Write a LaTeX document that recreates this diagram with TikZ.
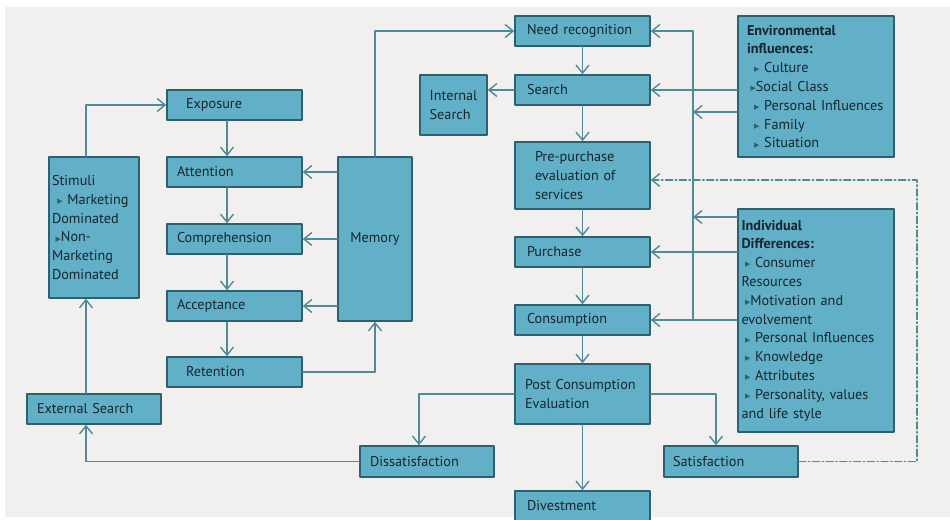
\documentclass[tikz,border=0pt]{standalone}
\usepackage{fontspec}
\setmainfont{PT Sans}
\newfontfamily\symfont{DejaVu Sans}
\usetikzlibrary{arrows.meta, positioning, calc}
\definecolor{boxfill}{HTML}{62AFC8}
\definecolor{boxline}{HTML}{2D6170}
\definecolor{wire}{HTML}{4F8A99}
\definecolor{ink}{HTML}{16262C}
\definecolor{paper}{HTML}{F1F0EE}
\newcommand{\bul}{{\symfont\fontsize{4}{4}\selectfont\color{boxline}\raisebox{0.4pt}{▶}}}

\begin{document}
\begin{tikzpicture}[x=0.02cm, y=-0.02cm, >={Straight Barb[length=1.6mm, width=2.6mm]}, line join=round, line cap=round,
    blk/.style={draw=boxline, fill=boxfill, line width=0.9pt, text=ink, font=\fontsize{8.1}{10.7}\selectfont, align=left, inner ysep=0pt, inner xsep=0.24cm},
    wide/.style={blk, text width=2.22cm, minimum height=0.6cm},
    inset/.style={blk, inner xsep=0.38cm, text width=1.94cm, minimum height=0.6cm},
    link/.style={->, draw=wire, line width=0.8pt}]
  \useasboundingbox (0,0) rectangle (950,520);
  \fill[white] (0,0) rectangle (950,520);
  \fill[paper] (5,7) rectangle (950,517);

  \node[wide] (need) at (582.5,31) {Need recognition};
  \node[wide] (search) at (582.5,90) {Search};
  \node[blk, inner xsep=0.1cm, minimum width=1.34cm, minimum height=1.2cm] (intern) at (453.5,105) {Internal\\Search};
  \node[blk, inner xsep=0.4cm, text width=1.9cm, minimum height=1.34cm] (prepur) at (582.5,175.5) {Pre-purchase\\evaluation of\\services};
  \node[wide] (purch) at (582.5,252) {Purchase};
  \node[wide] (cons) at (582.5,320) {Consumption};
  \node[blk, inner xsep=0.2cm, text width=2.3cm, minimum height=1.2cm] (post) at (582.5,394) {Post Consumption\\Evaluation};
  \node[wide] (div) at (582.5,506) {Divestment};
  \node[blk, inner xsep=0.18cm, text width=2.32cm, minimum height=0.62cm] (sat) at (731,461.5) {Satisfaction};
  \node[blk, inner xsep=0.2cm, text width=2.28cm, minimum height=0.62cm] (dis) at (427,461.5) {Dissatisfaction};

  \node[blk, inner xsep=0.18cm, text width=2.76cm, minimum height=2.82cm] (env) at (816,86.5) {\textbf{Environmental}\\\textbf{influences:}\\\hspace*{4pt}\bul\ Culture\\\hspace*{2pt}\bul Social Class\\\hspace*{4pt}\bul\ Personal Influences\\\hspace*{4pt}\bul\ Family\\\hspace*{4pt}\bul\ Situation};
  \node[blk, inner xsep=0.07cm, text width=2.98cm, minimum height=4.46cm] (indiv) at (816,320.5) {\textbf{Individual}\\\textbf{Differences:}\\\hspace*{2pt}\bul\ Consumer\\Resources\\\hspace*{2pt}\bul Motivation and\\evolvement\\\hspace*{2pt}\bul\ Personal Influences\\\hspace*{2pt}\bul\ Knowledge\\\hspace*{2pt}\bul\ Attributes\\\hspace*{2pt}\bul\ Personality, values\\and life style};

  \node[inset] (expo) at (234.5,105) {Exposure};
  \node[wide, inner xsep=0.2cm, text width=2.3cm] (att) at (234.5,172) {Attention};
  \node[wide, inner xsep=0.2cm, text width=2.3cm] (comp) at (234.5,239) {Comprehension};
  \node[wide, inner xsep=0.2cm, text width=2.3cm] (acc) at (234.5,306) {Acceptance};
  \node[inset] (ret) at (234.5,372) {Retention};
  \node[blk, align=center, inner xsep=0pt, minimum width=1.48cm, minimum height=3.28cm] (mem) at (375,239) {Memory};
  \node[blk, inner xsep=0.06cm, text width=1.68cm, minimum height=2.82cm] (stim) at (94,227.5) {Stimuli\\\hspace*{3pt}\bul\ Marketing\\Dominated\\\hspace*{2pt}\bul Non-\\Marketing\\Dominated};
  \node[blk, inner xsep=0.2cm, text width=2.28cm, minimum height=0.6cm] (ext) at (94,409) {External Search};

  \coordinate (envtap) at (693,112);
  \coordinate (indtap) at (693,217);
  \coordinate (fb) at (917,180);

  \draw[link] ([xshift=-0.16cm]stim.north) |- (expo.west);
  \draw[link] ([xshift=-0.16cm]ext.north) -- ([xshift=-0.16cm]stim.south);
  \draw[link] (dis.west) -| ([xshift=-0.16cm]ext.south);
  \foreach \a/\b in {expo/att, att/comp, comp/acc, acc/ret}
    \draw[link] ([xshift=-0.15cm]\a.south) -- ([xshift=-0.15cm]\b.north);
  \foreach \t in {att, comp, acc}
    \draw[link] (mem.west |- \t) -- (\t.east);
  \draw[link] (ret.east) -| (mem.south);
  \draw[link] (mem.north) |- (need.west);
  \foreach \a/\b in {need/search, search/prepur, prepur/purch, purch/cons, cons/post, post/div}
    \draw[link] (\a) -- (\b);
  \draw[link] (search.west) -- (search.west -| intern.east);
  \draw[link] (post.west) -| ([xshift=-0.16cm]dis.north);
  \draw[link] (post.east) -| ([xshift=-0.3cm]sat.north);

  \draw[link] (cons.east -| envtap) |- (need.east);
  \draw[link] (env.west |- search) -- (search.east);
  \draw[link] (env.west |- envtap) -- (envtap);
  \draw[link] (indiv.west |- indtap) -- (indtap);
  \draw[link] (indiv.west |- purch) -- (purch.east);
  \draw[link] (indiv.west |- cons) -- (cons.east);
  \draw[link, dash pattern=on 4pt off 1.5pt on 0.8pt off 1.5pt] (sat.east) -| (fb) -- (fb -| prepur.east);
\end{tikzpicture}
\end{document}
